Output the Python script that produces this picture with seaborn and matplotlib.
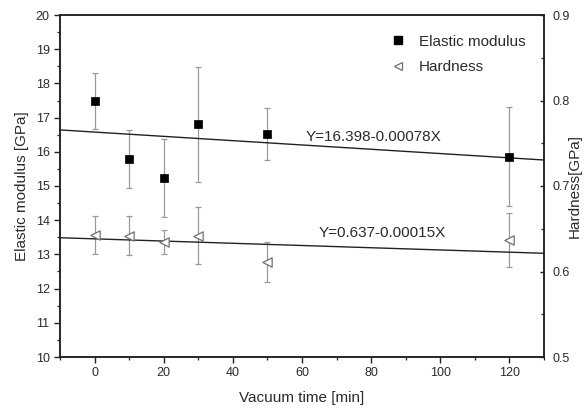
import numpy as np
import pandas as pd
import matplotlib
matplotlib.use("Agg")
import matplotlib.pyplot as plt
import seaborn as sns
from matplotlib.lines import Line2D
from matplotlib.ticker import MultipleLocator

# ---- data ----
time_min = [0, 10, 20, 30, 50, 120]
elastic_modulus = [17.48, 15.79, 15.22, 16.80, 16.52, 15.86]
elastic_err = [0.82, 0.86, 1.14, 1.68, 0.76, 1.44]
hardness = [0.643, 0.642, 0.634, 0.642, 0.611, 0.637]
hardness_err = [0.022, 0.023, 0.014, 0.033, 0.023, 0.032]

fit_x = [-10, 130]
fit_elastic = [16.64, 15.76]
fit_hardness = [0.6395, 0.6213]

eq_elastic = "Y=16.398-0.00078X"
eq_hardness = "Y=0.637-0.00015X"
eq_elastic_pos = (61, 16.44)
eq_hardness_pos = (64.8, 0.645)

xlim = (-10, 130)
ylim_left = (10, 20)
ylim_right = (0.5, 0.9)

sns.set_style("ticks")
plt.rcParams["font.family"] = ["Liberation Sans", "DejaVu Sans"]

txt_col = "#2a2a2a"
err_col = "#9a9a9a"

fig = plt.figure(figsize=(5.84, 4.08), dpi=100)
ax = fig.add_axes([60/584, 1-357/408, (544-60)/584, (357-15)/408])
ax2 = ax.twinx()

df_e = pd.DataFrame({"t": time_min, "E": elastic_modulus})
df_h = pd.DataFrame({"t": time_min, "H": hardness})
df_fe = pd.DataFrame({"t": fit_x, "E": fit_elastic})
df_fh = pd.DataFrame({"t": fit_x, "H": fit_hardness})

# error bars
ax.errorbar(time_min, elastic_modulus, yerr=elastic_err, fmt="none",
            ecolor=err_col, elinewidth=0.9, capsize=2.0, capthick=0.9, zorder=2)
ax2.errorbar(time_min, hardness, yerr=hardness_err, fmt="none",
             ecolor=err_col, elinewidth=0.9, capsize=2.0, capthick=0.9, zorder=2)

# fit lines
sns.lineplot(data=df_fe, x="t", y="E", ax=ax, color="#222222", linewidth=1.0, zorder=3)
sns.lineplot(data=df_fh, x="t", y="H", ax=ax2, color="#222222", linewidth=1.0, zorder=3)

# markers
sns.scatterplot(data=df_e, x="t", y="E", ax=ax, marker="s", s=38, color="black",
                edgecolor="black", linewidth=0.5, zorder=4)
sns.scatterplot(data=df_h, x="t", y="H", ax=ax2, marker="<", s=45,
                facecolor="white", edgecolor="#707070", linewidth=0.9, zorder=4)

ax.set_xlim(*xlim)
ax.set_ylim(*ylim_left)
ax2.set_ylim(*ylim_right)

ax.xaxis.set_major_locator(MultipleLocator(20))
ax.xaxis.set_minor_locator(MultipleLocator(10))
ax.yaxis.set_major_locator(MultipleLocator(1))
ax.yaxis.set_minor_locator(MultipleLocator(0.5))
ax2.yaxis.set_major_locator(MultipleLocator(0.1))
ax2.yaxis.set_minor_locator(MultipleLocator(0.05))

for a in (ax, ax2):
    for s in a.spines.values():
        s.set_visible(True)
        s.set_linewidth(1.1)
        s.set_color("#222222")
ax.tick_params(which="major", length=4.5, width=1.0, color="#222222",
               labelsize=9, labelcolor=txt_col, direction="out", pad=3)
ax.tick_params(which="minor", length=2.5, width=0.9, color="#222222", direction="out")
ax.tick_params(axis="y", which="both", right=False)
ax.tick_params(axis="x", which="both", top=False)
ax2.tick_params(axis="x", which="both", top=False, bottom=False)
ax2.tick_params(axis="y", which="major", left=False, direction="in", length=3,
                width=1.0, color="#222222", labelsize=9, labelcolor=txt_col, pad=6)
ax2.tick_params(axis="y", which="minor", left=False, direction="in", length=2.2,
                width=0.9, color="#222222")

ax.set_xlabel("Vacuum time [min]", fontsize=11, color=txt_col, labelpad=8)
ax.set_ylabel("Elastic modulus [GPa]", fontsize=11, color=txt_col, labelpad=5)
ax2.set_yticks([0.5, 0.6, 0.7, 0.8, 0.9])
ax2.set_yticklabels(["0.5", "0.6", "0.7", "0.8", "0.9"])
ax2.set_ylabel("Hardness[GPa]", fontsize=11, color=txt_col, rotation=90,
               ha="center", va="center")
ax2.yaxis.set_label_coords((575-60)/484, 0.5)

ax.text(*eq_elastic_pos, eq_elastic, fontsize=11, color=txt_col, ha="left", va="center")
ax2.text(*eq_hardness_pos, eq_hardness, fontsize=11, color=txt_col, ha="left", va="center")

handles = [
    Line2D([], [], linestyle="none", marker="s", markersize=5.5, color="black"),
    Line2D([], [], linestyle="none", marker="<", markersize=6, markerfacecolor="white",
           markeredgecolor="#707070", markeredgewidth=0.9),
]
leg = ax2.legend(handles, ["Elastic modulus", "Hardness"], frameon=False,
                 loc="upper left", bbox_to_anchor=(383/584, 1-27/408),
                 bbox_transform=fig.transFigure, fontsize=11, borderpad=0,
                 handlelength=1.0, handletextpad=0.85, labelspacing=0.75)
for t in leg.get_texts():
    t.set_color(txt_col)

fig.savefig("out.png", dpi=100)
